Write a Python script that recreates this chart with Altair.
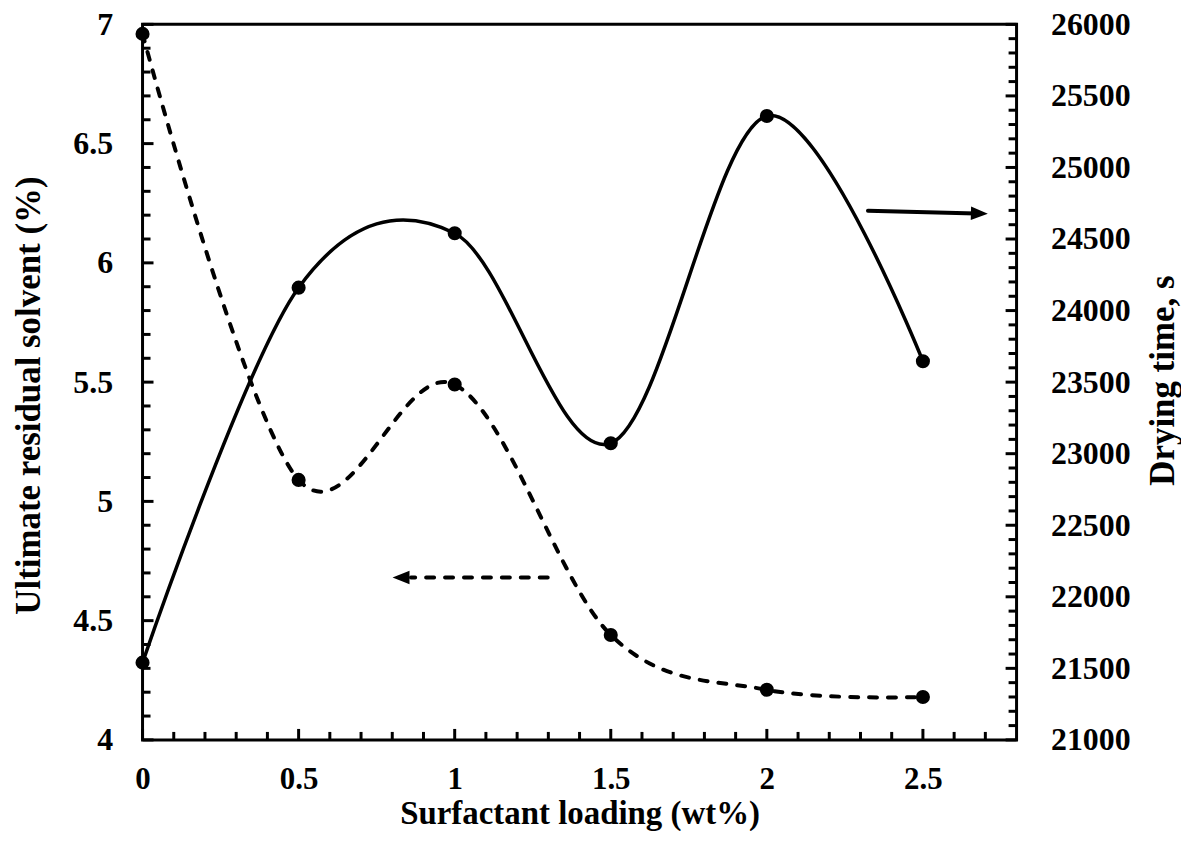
import altair as alt
import pandas as pd

# ---- data ----
loading = [0, 0.5, 1, 1.5, 2, 2.5]
residual_solvent = [6.96, 5.09, 5.49, 4.44, 4.21, 4.18]      # left axis (%)
drying_time = [21540, 24160, 24540, 23073, 25360, 23646]     # right axis (s)

x_major = [0, 0.5, 1, 1.5, 2, 2.5]
x_minor = [0.1, 0.2, 0.3, 0.4, 0.6, 0.7, 0.8, 0.9, 1.1, 1.2, 1.3, 1.4,
           1.6, 1.7, 1.8, 1.9, 2.1, 2.2, 2.3, 2.4, 2.6, 2.7]
left_major = [4, 4.5, 5, 5.5, 6, 6.5, 7]
left_minor = [4.1, 4.2, 4.3, 4.4, 4.6, 4.7, 4.8, 4.9, 5.1, 5.2, 5.3, 5.4,
              5.6, 5.7, 5.8, 5.9, 6.1, 6.2, 6.3, 6.4, 6.6, 6.7, 6.8, 6.9]
right_major = [21000, 21500, 22000, 22500, 23000, 23500, 24000, 24500,
               25000, 25500, 26000]
right_minor = [v for v in range(21100, 26000, 100) if v % 500 != 0]

# annotation arrows (data coordinates)
arrow_left_x = [1.298]
arrow_left_x2 = [0.86]
arrow_left_y = [4.681]
arrow_left_tip = [0.801]
arrow_right_x = [2.324]
arrow_right_x2 = [2.67]
arrow_right_y = [24698]
arrow_right_y2 = [24679]
arrow_right_tip_x = [2.708]
arrow_right_tip_y = [24677]

FONT = "Liberation Serif"
W, H = 877, 718

solvent_df = pd.DataFrame({"x": loading, "left": residual_solvent})
drying_df = pd.DataFrame({"x": loading, "right": drying_time})

xenc = alt.X(
    "x:Q",
    scale=alt.Scale(domain=[0, 2.8], nice=False, zero=False),
    axis=alt.Axis(values=x_major, format="~g", ticks=False, domain=False, grid=False,
                  labelPadding=25, labelFontSize=31, labelFlush=False, labelOverlap=False,
                  title="Surfactant loading (wt%)", titleY=84, titleFontSize=33,
                  titleBaseline="alphabetic", titleAlign="center"),
)
yleft = alt.Y(
    "left:Q",
    scale=alt.Scale(domain=[4, 7], nice=False, zero=False),
    axis=alt.Axis(orient="left", values=left_major, format="~g", ticks=False, domain=False,
                  grid=False, labelPadding=30, labelFlush=False, labelOverlap=False,
                  title="Ultimate residual solvent (%)", titleX=-103, titleY=372,
                  titleFontSize=35,
                  titleAngle=-90, titleBaseline="alphabetic", titleAlign="center"),
)
yright = alt.Y(
    "right:Q",
    scale=alt.Scale(domain=[21000, 26000], nice=False, zero=False),
    axis=alt.Axis(orient="right", values=right_major, format="d", ticks=False, domain=False,
                  grid=False, labelPadding=34, labelFlush=False, labelOverlap=False,
                  title="Drying time, s", titleX=157, titleY=357, titleFontSize=35,
                  titleAngle=-90, titleBaseline="alphabetic", titleAlign="center"),
)

dash = [8, 11]

dashed_line = alt.Chart(solvent_df).mark_line(
    interpolate="cardinal", color="black", strokeWidth=4, strokeDash=dash, strokeCap="round"
).encode(x=xenc, y=yleft)
dashed_pts = alt.Chart(solvent_df).mark_point(
    filled=True, color="black", size=200, opacity=1
).encode(x=xenc, y=yleft)

xt_major = alt.Chart(pd.DataFrame({"x": x_major})).mark_rule(color="black", strokeWidth=3).encode(
    x=xenc, y=alt.value(H), y2=alt.value(H - 11))
xt_minor = alt.Chart(pd.DataFrame({"x": x_minor})).mark_rule(color="black", strokeWidth=3).encode(
    x=xenc, y=alt.value(H), y2=alt.value(H - 8))
lt_major = alt.Chart(pd.DataFrame({"left": left_major})).mark_rule(color="black", strokeWidth=3).encode(
    y=yleft, x=alt.value(0), x2=alt.value(11))
lt_minor = alt.Chart(pd.DataFrame({"left": left_minor})).mark_rule(color="black", strokeWidth=3).encode(
    y=yleft, x=alt.value(0), x2=alt.value(8))

arrow_l_df = pd.DataFrame({"x": arrow_left_x, "x2": arrow_left_x2, "left": arrow_left_y})
arrow_l_line = alt.Chart(arrow_l_df).mark_rule(
    color="black", strokeWidth=4, strokeDash=dash, strokeCap="round"
).encode(x=xenc, x2="x2:Q", y=yleft)
arrow_l_head = alt.Chart(pd.DataFrame({"x": arrow_left_tip, "left": arrow_left_y})).mark_point(
    shape="M0,0L2,-0.8L2,0.8Z", filled=True, color="black", size=289, opacity=1
).encode(x=xenc, y=yleft)

solid_line = alt.Chart(drying_df).mark_line(
    interpolate="cardinal", color="black", strokeWidth=3.5
).encode(x=xenc, y=yright)
solid_pts = alt.Chart(drying_df).mark_point(
    filled=True, color="black", size=200, opacity=1
).encode(x=xenc, y=yright)

rt_major = alt.Chart(pd.DataFrame({"right": right_major})).mark_rule(color="black", strokeWidth=3).encode(
    y=yright, x=alt.value(W), x2=alt.value(W - 11))
rt_minor = alt.Chart(pd.DataFrame({"right": right_minor})).mark_rule(color="black", strokeWidth=3).encode(
    y=yright, x=alt.value(W), x2=alt.value(W - 8))

arrow_r_df = pd.DataFrame({"x": arrow_right_x, "x2": arrow_right_x2,
                           "right": arrow_right_y, "right2": arrow_right_y2})
arrow_r_line = alt.Chart(arrow_r_df).mark_rule(color="black", strokeWidth=4, strokeCap="round").encode(
    x=xenc, x2="x2:Q", y=yright, y2="right2:Q")
arrow_r_head = alt.Chart(pd.DataFrame({"x": arrow_right_tip_x, "right": arrow_right_tip_y})).mark_point(
    shape="M0,0L-2,-0.8L-2,0.8Z", filled=True, color="black", size=289, opacity=1, angle=1.4
).encode(x=xenc, y=yright)

left_layer = alt.layer(xt_minor, xt_major, lt_minor, lt_major,
                       dashed_line, dashed_pts, arrow_l_line, arrow_l_head)
right_layer = alt.layer(rt_minor, rt_major, solid_line, solid_pts, arrow_r_line, arrow_r_head)

chart = alt.layer(left_layer, right_layer).resolve_scale(y="independent").properties(
    width=W, height=H,
    autosize=alt.AutoSizeParams(type="none"),
    padding={"left": 135, "top": 15, "right": 165, "bottom": 90},
).configure_view(
    stroke="black", strokeWidth=3
).configure_axis(
    labelFont=FONT, labelFontWeight="bold", labelFontSize=32, labelColor="black",
    titleFont=FONT, titleFontWeight="bold", titleFontSize=34, titleColor="black",
)

chart.save("out.html", embed_options={"renderer": "svg", "actions": False})
